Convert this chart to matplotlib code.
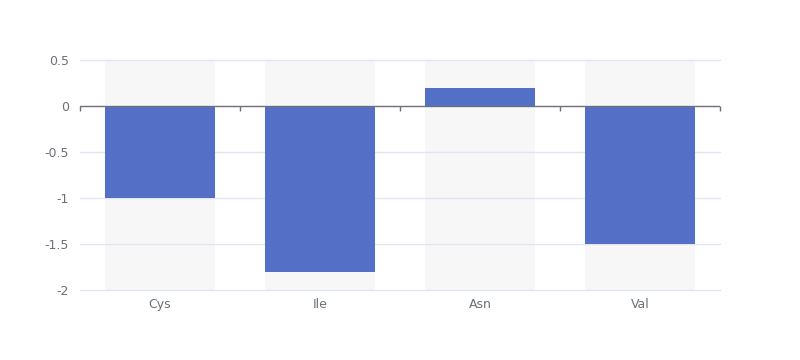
import matplotlib
matplotlib.use("Agg")
import matplotlib.pyplot as plt

categories = ["Cys", "Ile", "Asn", "Val"]
values = [-1.0, -1.8, 0.2, -1.5]
yticks = [0.5, 0, -0.5, -1, -1.5, -2]
ytick_labels = ["0.5", "0", "-0.5", "-1", "-1.5", "-2"]

plt.rcParams['font.family'] = ['DejaVu Sans']
fig = plt.figure(figsize=(8, 3.6), dpi=100)
ax = fig.add_axes([0.1, 1 - 290/360, 0.8, 230/360])

ymin, ymax = -2, 0.5
x = list(range(len(categories)))
bw = 0.6875
# background shadow bars
ax.bar(x, [ymax - ymin] * len(x), bottom=ymin, width=bw, color="#f7f7f7", zorder=1)
# gridlines
for t in yticks:
    if t != 0:
        ax.axhline(t, color="#E0E6F1", lw=1, zorder=2, clip_on=False)
ax.bar(x, values, width=bw, color="#5470c6", zorder=3)
ax.axhline(0, color="#6E7079", lw=1, zorder=4)
# ticks at category boundaries, pointing down from the zero line
tick_len = 5 * (ymax - ymin) / 230
for b in [-0.5, 0.5, 1.5, 2.5, 3.5]:
    ax.plot([b, b], [0, -tick_len], color="#6E7079", lw=1, zorder=4, clip_on=False,
            solid_capstyle="butt")

ax.set_xlim(-0.5, len(categories) - 0.5)
ax.set_ylim(ymin, ymax)
ax.set_yticks(yticks)
ax.set_yticklabels(ytick_labels)
ax.set_xticks(x)
ax.set_xticklabels(categories)
ax.tick_params(axis="both", length=0, labelsize=9, labelcolor="#6E7079")
ax.tick_params(axis="y", pad=8)
ax.tick_params(axis="x", pad=6)
for s in ax.spines.values():
    s.set_visible(False)

fig.savefig("out.png", dpi=100)
